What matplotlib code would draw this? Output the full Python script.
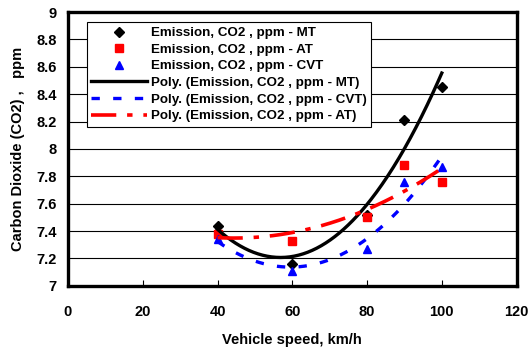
import numpy as np
import matplotlib.pyplot as plt

plt.rcParams['font.family'] = ['Liberation Sans', 'DejaVu Sans']
plt.rcParams['font.weight'] = 'bold'

# Messpunkte
speed = [40, 60, 80, 90, 100]
co2_mt = [7.44, 7.16, 7.52, 8.21, 8.45]
co2_at = [7.38, 7.33, 7.50, 7.88, 7.76]
co2_cvt = [7.34, 7.11, 7.27, 7.76, 7.87]

fig = plt.figure(figsize=(5.29, 3.56), dpi=100)
ax = fig.add_axes([0.1285, 0.197, 0.848, 0.769])

ax.plot(speed, co2_mt, 'D', color='black', ms=5, label='Emission, CO2 , ppm - MT')
ax.plot(speed, co2_at, 's', color='red', ms=5.5, label='Emission, CO2 , ppm - AT')
ax.plot(speed, co2_cvt, '^', color='blue', ms=6, label='Emission, CO2 , ppm - CVT')

# Polynom-Trendlinien (2. Ordnung, wie Excel)
xs = np.linspace(min(speed), max(speed), 200)
p_mt = np.polyfit(speed, co2_mt, 2)
p_cvt = np.polyfit(speed, co2_cvt, 2)
p_at = np.polyfit(speed, co2_at, 2)
ax.plot(xs, np.polyval(p_mt, xs), '-', color='black', lw=2.4,
        label='Poly. (Emission, CO2 , ppm - MT)')
ax.plot(xs, np.polyval(p_cvt, xs), color='blue', lw=2.4, dashes=(2.5, 4),
        label='Poly. (Emission, CO2 , ppm - CVT)')
ax.plot(xs, np.polyval(p_at, xs), color='red', lw=2.6, dashes=(7, 3, 1.5, 3),
        label='Poly. (Emission, CO2 , ppm - AT)')

ax.set_xlim(0, 120)
ax.set_ylim(7, 9)
ax.set_xticks(range(0, 121, 20))
yt = np.round(np.arange(7, 9.01, 0.2), 1)
ax.set_yticks(yt)
ax.set_yticklabels([f'{v:g}' for v in yt])
ax.yaxis.grid(True, color='black', lw=0.8)
ax.set_axisbelow(True)
ax.tick_params(axis='x', direction='in', length=4, labelsize=10.5, pad=14)
ax.tick_params(axis='y', length=0, labelsize=10.5, pad=8)
for s in ax.spines.values():
    s.set_linewidth(2.4)

ax.set_xlabel('Vehicle speed, km/h', fontsize=10.5, fontweight='bold', labelpad=10)
ax.set_ylabel('Carbon Dioxide (CO2) ,   ppm', fontsize=10.5, fontweight='bold', labelpad=8)

leg = ax.legend(loc='upper left', bbox_to_anchor=(0.042, 0.963),
                frameon=True, fancybox=False, edgecolor='black', framealpha=1,
                handlelength=4.2, borderpad=0.35, labelspacing=0.32,
                handletextpad=0.25, borderaxespad=0,
                prop={'weight': 'bold', 'size': 9.6})
leg.get_frame().set_linewidth(0.8)

fig.savefig('out.png', dpi=100)
